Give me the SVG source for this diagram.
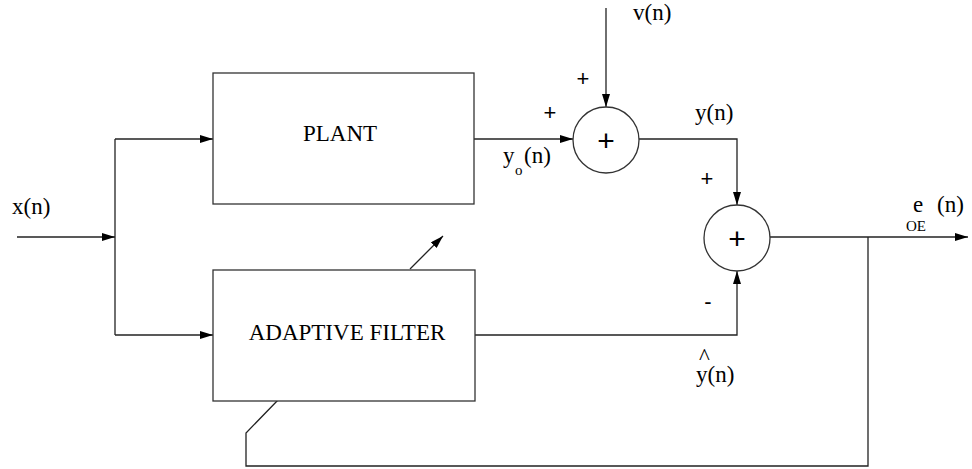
<svg xmlns="http://www.w3.org/2000/svg" width="972" height="469" viewBox="0 0 972 469">
<style>
.ln{fill:none;stroke:#222;stroke-width:1.3}
.bx{fill:#fff;stroke:#333;stroke-width:1.3}
.t{font-family:"Liberation Serif","Times New Roman",serif;font-size:23px;fill:#000}
.s{font-family:"Liberation Serif","Times New Roman",serif;font-size:15px;fill:#000}
.pm{font-family:"Liberation Sans",Arial,sans-serif;font-size:22px;fill:#000;text-anchor:middle}
.sum{font-family:"Liberation Sans",Arial,sans-serif;font-size:30px;fill:#000;text-anchor:middle}
</style>
<defs>
<marker id="ah" markerWidth="13" markerHeight="8" refX="13" refY="4" orient="auto" markerUnits="userSpaceOnUse">
<path d="M0,0 L13,4 L0,8 Z" fill="#000"/>
</marker>
</defs>
<g id="connectors">
<line class="ln" x1="17" y1="237" x2="115" y2="237" marker-end="url(#ah)"/>
<line class="ln" x1="115" y1="139" x2="115" y2="335"/>
<line class="ln" x1="115" y1="139" x2="213" y2="139" marker-end="url(#ah)"/>
<line class="ln" x1="115" y1="335" x2="213" y2="335" marker-end="url(#ah)"/>
<line class="ln" x1="474" y1="139" x2="573" y2="139" marker-end="url(#ah)"/>
<line class="ln" x1="606" y1="8" x2="606" y2="107" marker-end="url(#ah)"/>
<polyline class="ln" points="639,139 737,139 737,205" marker-end="url(#ah)"/>
<polyline class="ln" points="475,335 737,335 737,271" marker-end="url(#ah)"/>
<line class="ln" x1="770" y1="237" x2="968" y2="237" marker-end="url(#ah)"/>
<polyline class="ln" points="868,237 868,466 246,466 246,433 278,400"/>
<line class="ln" x1="410" y1="269" x2="443" y2="236" marker-end="url(#ah)"/>
</g>
<g id="plant">
<rect class="bx" x="213" y="73" width="261" height="131"/>
<text class="t" x="340" y="141" text-anchor="middle">PLANT</text>
</g>
<g id="adaptive-filter">
<rect class="bx" x="213" y="270" width="262" height="131"/>
<text class="t" x="347" y="340" text-anchor="middle">ADAPTIVE FILTER</text>
</g>
<g id="sum1">
<circle class="bx" cx="606" cy="140" r="33"/>
<text class="sum" x="606" y="151">+</text>
</g>
<g id="sum2">
<circle class="bx" cx="737" cy="238" r="33"/>
<text class="sum" x="737" y="249">+</text>
</g>
<g id="labels">
<text class="t" x="12" y="214">x(n)</text>
<text class="t" x="633" y="20">v(n)</text>
<text class="pm" x="583" y="86">+</text>
<text class="pm" x="550" y="120">+</text>
<text class="t" x="695" y="120">y(n)</text>
<text class="t" x="503" y="163">y</text>
<text class="s" x="515" y="175">o</text>
<text class="t" x="524" y="163">(n)</text>
<text class="pm" x="707" y="186">+</text>
<text class="pm" x="708" y="309">-</text>
<text class="t" x="699" y="364" font-size="18">^</text>
<text class="t" x="696" y="382">y(n)</text>
<text class="t" x="913" y="212">e</text>
<text class="s" x="906" y="231" font-size="14">OE</text>
<text class="t" x="937" y="212">(n)</text>
</g>
</svg>
